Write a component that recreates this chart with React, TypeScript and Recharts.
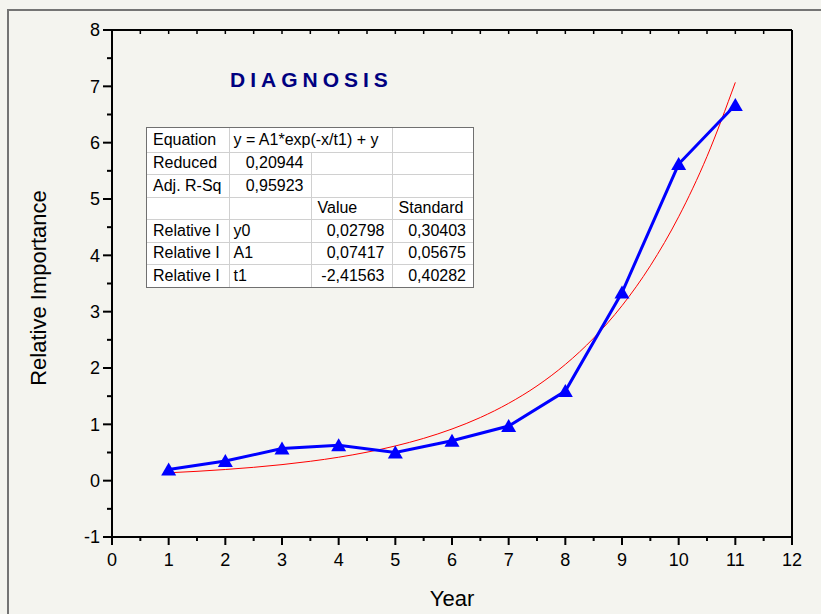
import React from 'react';
import { ComposedChart, Line, XAxis, YAxis } from 'recharts';

// measured series (Year vs Relative Importance)
const years = [1, 2, 3, 4, 5, 6, 7, 8, 9, 10, 11];
const importance = [0.2, 0.35, 0.57, 0.63, 0.5, 0.71, 0.97, 1.59, 3.34, 5.62, 6.67];

// fitted curve
const fitYears = [1, 1.5, 2, 2.5, 3, 3.5, 4, 4.5, 5, 5.5, 6, 6.5, 7, 7.5, 8, 8.5, 9, 9.5, 10, 10.5, 11];
const fitValues = [0.14, 0.166, 0.198, 0.237, 0.285, 0.344, 0.416, 0.506, 0.616, 0.751, 0.917, 1.121, 1.373, 1.682, 2.063, 2.531, 3.106, 3.814, 4.685, 5.755, 7.07];

// ticks
const xTicks = [0, 0.5, 1, 1.5, 2, 2.5, 3, 3.5, 4, 4.5, 5, 5.5, 6, 6.5, 7, 7.5, 8, 8.5, 9, 9.5, 10, 10.5, 11, 11.5, 12];
const yTicks = [-1, -0.5, 0, 0.5, 1, 1.5, 2, 2.5, 3, 3.5, 4, 4.5, 5, 5.5, 6, 6.5, 7, 7.5, 8];

// fit table
const tableRow1 = ['Equation', 'y = A1*exp(-x/t1) + y', ''];
const tableRow2 = ['Reduced', '0,20944', '', ''];
const tableRow3 = ['Adj. R-Sq', '0,95923', '', ''];
const tableRow4 = ['', '', 'Value', 'Standard'];
const tableRow5 = ['Relative I', 'y0', '0,02798', '0,30403'];
const tableRow6 = ['Relative I', 'A1', '0,07417', '0,05675'];
const tableRow7 = ['Relative I', 't1', '-2,41563', '0,40282'];

const FONT = "Arial, 'Liberation Sans', sans-serif";

const measured = years.map((y, i) => ({ x: y, y: importance[i] }));
const fitted = fitYears.map((y, i) => ({ x: y, y: fitValues[i] }));

const isMajor = (v: number) => Number.isInteger(v);

const BottomTick = (props: any) => {
  const { x, y, payload } = props;
  const major = isMajor(payload.value);
  return (
    <g>
      <line x1={x} y1={y} x2={x} y2={y + (major ? 8 : 4)} stroke="#000" strokeWidth={2} />
      {major && (
        <text x={x} y={y + 29} textAnchor="middle" fontSize={18} fill="#000" fontFamily={FONT}>
          {payload.value}
        </text>
      )}
    </g>
  );
};

const TopTick = (props: any) => {
  const { x, y } = props;
  return <line x1={x} y1={y} x2={x} y2={y + 4} stroke="#000" strokeWidth={1.5} />;
};

const LeftTick = (props: any) => {
  const { x, y, payload } = props;
  const major = isMajor(payload.value);
  return (
    <g>
      <line x1={x} y1={y} x2={x - (major ? 9 : 5)} y2={y} stroke="#000" strokeWidth={2} />
      {major && (
        <text x={x - 12} y={y} dy="0.35em" textAnchor="end" fontSize={18} fill="#000" fontFamily={FONT}>
          {payload.value}
        </text>
      )}
    </g>
  );
};

const Triangle = (props: any) => {
  const { cx, cy, index } = props;
  if (cx == null || cy == null) return <g key={index} />;
  return (
    <polygon
      key={index}
      points={`${cx},${cy - 7} ${cx - 7.5},${cy + 6} ${cx + 7.5},${cy + 6}`}
      fill="#0000ff"
      stroke="none"
    />
  );
};

const cellBase: React.CSSProperties = {
  borderRight: '1px solid #d0d0d0',
  borderBottom: '1px solid #d0d0d0',
  padding: '0 7px 0 6px',
  whiteSpace: 'nowrap',
  overflow: 'hidden',
  fontSize: 16,
  fontFamily: FONT,
  color: '#000',
};

const FitTable = () => {
  const rows = [tableRow2, tableRow3, tableRow4, tableRow5, tableRow6, tableRow7];
  return (
    <div
      style={{
        position: 'absolute',
        left: 146,
        top: 127,
        width: 326,
        height: 159,
        border: '1px solid #707070',
        background: '#ffffff',
      }}
    >
      <table style={{ borderCollapse: 'collapse', tableLayout: 'fixed', width: 326 }}>
        <colgroup>
          <col style={{ width: 82 }} />
          <col style={{ width: 82 }} />
          <col style={{ width: 81 }} />
          <col style={{ width: 81 }} />
        </colgroup>
        <tbody>
          <tr style={{ height: 24 }}>
            <td style={{ ...cellBase }}>{tableRow1[0]}</td>
            <td colSpan={2} style={{ ...cellBase, padding: '0 4px' }}>{tableRow1[1]}</td>
            <td style={{ ...cellBase, borderRight: 'none' }}>{tableRow1[2]}</td>
          </tr>
          {rows.map((r, ri) => (
            <tr key={ri} style={{ height: 22.5 }}>
              {r.map((c, ci) => {
                const numeric = /^-?\d/.test(c) && !(ci === 1 && ri >= 3);
                const style: React.CSSProperties = {
                  ...cellBase,
                  textAlign: numeric ? 'right' : 'left',
                };
                if (ci === 3) style.borderRight = 'none';
                if (ri === rows.length - 1) style.borderBottom = 'none';
                if (ci === 1 && ri >= 3) style.padding = '0 4px';
                return (
                  <td key={ci} style={style}>
                    {c}
                  </td>
                );
              })}
            </tr>
          ))}
        </tbody>
      </table>
    </div>
  );
};

export default function App() {
  return (
    <div
      style={{
        position: 'absolute',
        left: 0,
        top: 0,
        width: 821,
        height: 614,
        background: '#f4f4ef',
        overflow: 'hidden',
      }}
    >
      <div
        style={{
          position: 'absolute',
          left: 7,
          top: 9,
          width: 900,
          height: 700,
          borderLeft: '2px solid #747474',
          borderTop: '2px solid #747474',
        }}
      />
      <div style={{ position: 'absolute', left: 0, top: 0 }}>
        <ComposedChart width={821} height={614} margin={{ top: 29, right: 28, bottom: 37, left: 52 }}>
          <XAxis
            dataKey="x"
            type="number"
            domain={[0, 12]}
            ticks={xTicks}
            interval={0}
            height={40}
            tickSize={0}
            tickMargin={0}
            tickLine={false}
            axisLine={{ stroke: '#000', strokeWidth: 2 }}
            tick={(p: any) => <BottomTick {...p} />}
            allowDataOverflow
          />
          <XAxis
            xAxisId="top"
            orientation="top"
            dataKey="x"
            type="number"
            domain={[0, 12]}
            ticks={xTicks}
            interval={0}
            height={1}
            tickSize={0}
            tickMargin={0}
            tickLine={false}
            axisLine={{ stroke: '#000', strokeWidth: 2 }}
            tick={(p: any) => <TopTick {...p} />}
            allowDataOverflow
          />
          <YAxis
            type="number"
            domain={[-1, 8]}
            ticks={yTicks}
            interval={0}
            width={60}
            tickSize={0}
            tickMargin={0}
            tickLine={false}
            axisLine={{ stroke: '#000', strokeWidth: 2 }}
            tick={(p: any) => <LeftTick {...p} />}
            allowDataOverflow
          />
          <YAxis
            yAxisId="right"
            orientation="right"
            type="number"
            domain={[-1, 8]}
            ticks={yTicks}
            width={1}
            tick={false}
            tickLine={false}
            axisLine={{ stroke: '#000', strokeWidth: 2 }}
            allowDataOverflow
          />
          <Line
            data={fitted}
            dataKey="y"
            xAxisId="top"
            yAxisId="right"
            type="monotone"
            stroke="#ff0000"
            strokeWidth={1}
            dot={false}
            isAnimationActive={false}
          />
          <Line
            data={measured}
            dataKey="y"
            type="linear"
            stroke="#0000ff"
            strokeWidth={3}
            dot={(p: any) => <Triangle key={p.index} {...p} />}
            activeDot={false}
            isAnimationActive={false}
          />
        </ComposedChart>
      </div>
      <svg
        width={821}
        height={614}
        style={{ position: 'absolute', left: 0, top: 0, pointerEvents: 'none' }}
      >
        <text x={230} y={87} fontSize={21} fontWeight="bold" letterSpacing={5} fill="#000080" fontFamily={FONT}>
          DIAGNOSIS
        </text>
        <text x={452} y={606} textAnchor="middle" fontSize={22} fill="#000" fontFamily={FONT}>
          Year
        </text>
        <text
          transform="translate(46,288) rotate(-90)"
          textAnchor="middle"
          fontSize={22}
          fill="#000"
          fontFamily={FONT}
        >
          Relative Importance
        </text>
      </svg>
      <FitTable />
    </div>
  );
}
